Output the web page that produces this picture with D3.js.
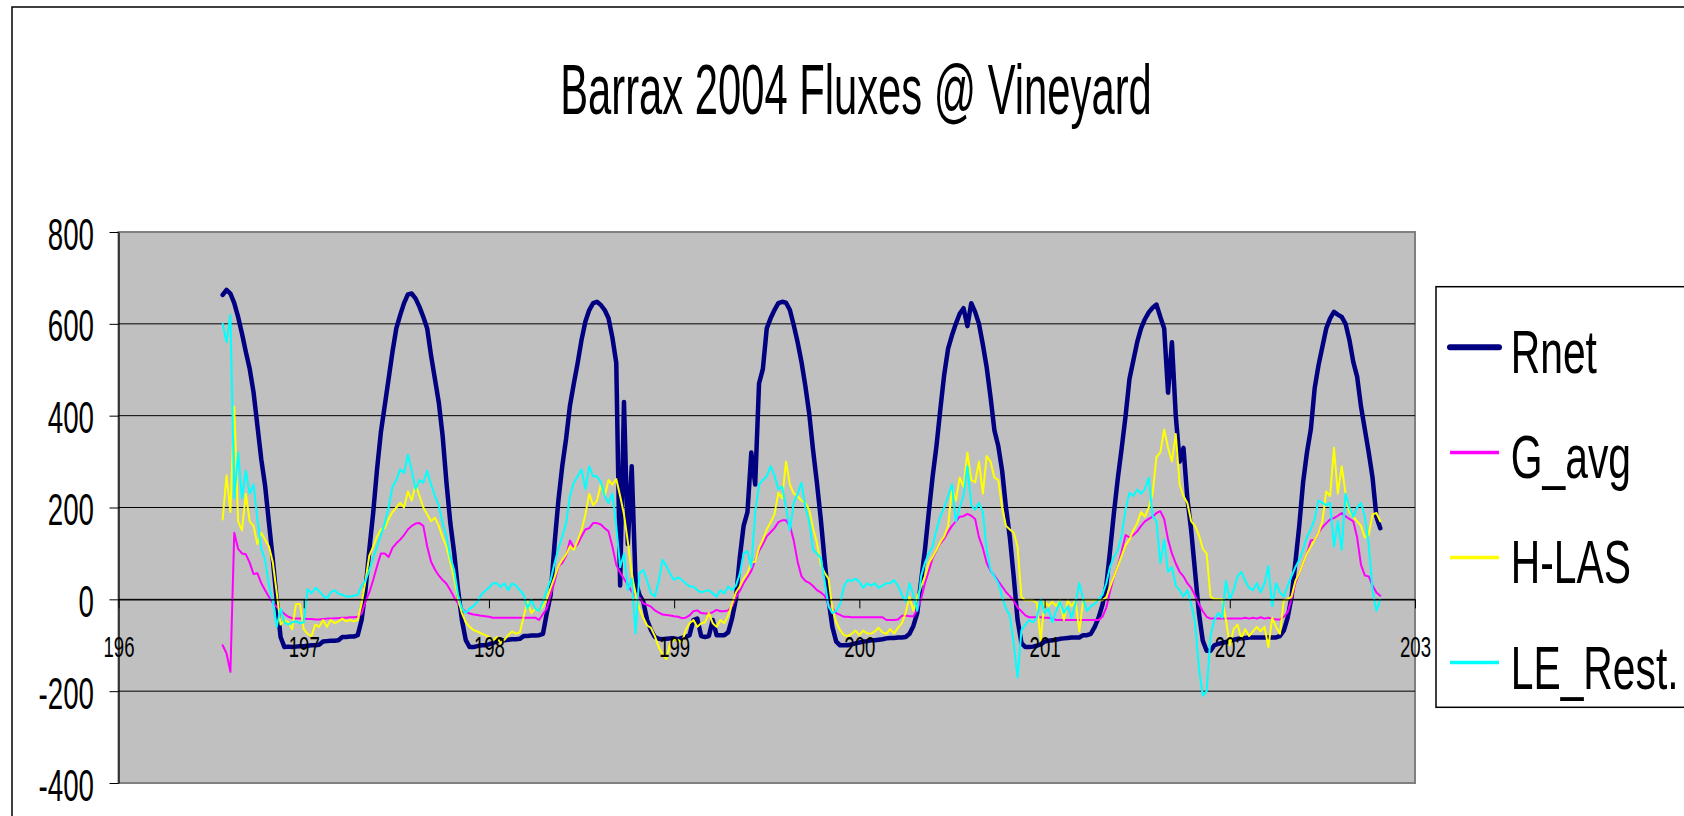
<!DOCTYPE html>
<html>
<head>
<meta charset="utf-8">
<script src="https://cdn.jsdelivr.net/npm/d3@7"></script>
<style>
  html, body { margin: 0; padding: 0; background: #fff; overflow: hidden; }
  svg { display: block; }
  text { font-family: "Liberation Sans", Arial, sans-serif; fill: #000; }
</style>
</head>
<body>
<svg width="1684" height="816"></svg>
<script>
// half-hourly samples, first one at day 196, 13:30
const startDay = 196.5625;
const stepDay = 1 / 48;

const seriesNames = ['Rnet', 'G_avg', 'H-LAS', 'LE_Rest.'];
const seriesColors = ['#000080', '#ff00ff', '#ffff00', '#00ffff'];
const dayTicks = [196, 197, 198, 199, 200, 201, 202, 203];
const fluxTicks = [-400, -200, 0, 200, 400, 600, 800];

const rnet = [
  663, 674, 666, 645, 615, 579, 539, 502, 451, 378,
  305, 247, 166, 86, -1, -82, -104, -103, -104, -103,
  -102, -102, -101, -100, -100, -99, -92, -91, -90, -90,
  -89, -82, -82, -81, -81, -78, -45, 20, 108, 188,
  283, 364, 422, 480, 539, 590, 619, 645, 664, 666,
  655, 637, 615, 590, 531, 480, 429, 356, 254, 166,
  101, 20, -45, -89, -104, -104, -102, -100, -100, -98,
  -95, -92, -90, -89, -88, -87, -87, -86, -80, -80,
  -79, -79, -78, -75, -30, 10, 120, 215, 290, 350,
  422, 470, 515, 565, 605, 630, 645, 648, 641, 630,
  612, 570, 515, 30, 430, 120, 290, 40, 10, -5,
  -45, -67, -82, -86, -87, -86, -85, -85, -87, -84,
  -82, -78, -45, -42, -80, -82, -80, -45, -78, -78,
  -78, -72, -42, 0, 90, 160, 190, 320, 250, 470,
  502, 590, 612, 630, 645, 648, 646, 630, 597, 560,
  517, 465, 405, 325, 254, 175, 85, 0, -60, -92,
  -100, -100, -100, -98, -96, -94, -92, -91, -89, -89,
  -88, -87, -85, -84, -84, -83, -83, -82, -75, -58,
  -30, 40, 108, 190, 268, 335, 415, 490, 546, 575,
  600, 622, 634, 595, 645, 626, 600, 555, 505, 440,
  368, 334, 280, 200, 135, 50, -45, -95, -104, -104,
  -103, -101, -98, -92, -90, -89, -88, -86, -85, -84,
  -83, -83, -83, -78, -78, -75, -60, -40, -12, 30,
  108, 190, 265, 330, 400, 480, 520, 560, 590, 610,
  625, 635, 642, 615, 590, 450, 560, 400, 300, 330,
  220, 150, 60, -30, -90, -112, -112, -100, -97, -95,
  -93, -90, -88, -86, -85, -84, -83, -83, -83, -83,
  -83, -83, -83, -83, -80, -68, -40, 5, 80, 160,
  255, 320, 370, 460, 510, 550, 590, 612, 626, 620,
  615, 600, 565, 517, 485, 420, 370, 320, 265, 180,
  155
];

const gAvg = [
  -100, -118, -158, 145, 110, 100, 98, 80, 55, 57,
  35, 20, 5, -8, -16, -24, -32, -38, -41, -42,
  -42, -42, -43, -43, -44, -44, -43, -42, -42, -41,
  -41, -40, -40, -39, -39, -38, -31, -5, 15, 42,
  72, 100, 100, 92, 112, 122, 130, 140, 152, 160,
  165, 166, 160, 115, 82, 65, 52, 42, 34, 20,
  4, -9, -20, -27, -31, -33, -34, -36, -37, -38,
  -40, -40, -40, -40, -40, -40, -40, -40, -40, -40,
  -40, -40, -45, -32, -20, 10, 38, 72, 79, 95,
  128, 112, 120, 137, 152, 155, 166, 166, 163, 155,
  148, 115, 75, 58, 45, 32, 17, 8, 4, -9,
  -12, -16, -24, -29, -33, -34, -35, -37, -38, -41,
  -40, -35, -26, -24, -30, -31, -31, -28, -23, -26,
  -26, -24, -15, 4, 18, 35, 48, 62, 85, 105,
  120, 137, 146, 155, 168, 172, 172, 160, 128, 82,
  50, 40, 36, 29, 20, 15, 8, -11, -20, -30,
  -34, -38, -38, -39, -39, -39, -39, -39, -39, -39,
  -39, -39, -45, -45, -45, -44, -36, -35, -37, -37,
  -22, 0, 35, 62, 90, 107, 122, 132, 147, 160,
  170, 180, 181, 186, 182, 175, 135, 112, 79, 62,
  52, 40, 28, 16, 7, -3, -18, -26, -35, -39,
  -39, -39, -39, -40, -40, -42, -45, -45, -45, -45,
  -45, -45, -45, -45, -45, -45, -45, -45, -38, -18,
  18, 50, 72, 105, 140, 135, 140, 148, 160, 170,
  175, 180, 188, 192, 175, 130, 100, 78, 60, 50,
  35, 25, 8, -10, -26, -38, -42, -42, -42, -42,
  -42, -42, -42, -42, -42, -40, -42, -40, -42, -39,
  -42, -40, -42, -44, -44, -38, -28, 0, 35, 57,
  79, 100, 128, 130, 145, 157, 166, 174, 177, 182,
  188, 181, 175, 170, 135, 75, 52, 50, 30, 15,
  8
];

const hLas = [
  174, 270, 190, 420, 170, 150, 230, 170, 160, 120,
  145, 130, 115, 80, 15, -55, -45, -50, -65, -10,
  -10, -65, -75, -80, -55, -60, -45, -60, -45, -52,
  -48, -42, -48, -45, -48, -45, -10, 40, 95, 115,
  137, 152, 155, 175, 190, 200, 210, 200, 235, 215,
  250, 225, 200, 185, 170, 178, 160, 135, 115, 80,
  45, 0, -30, -50, -60, -67, -70, -74, -78, -82,
  -90, -82, -95, -88, -78, -70, -75, -72, -38, -5,
  -30, -20, -25, -15, 0, 25, 48, 72, 86, 98,
  115, 108, 128, 150, 185, 230, 205, 215, 250, 225,
  260, 250, 262, 225, 185, 125, 57, 10, -20, -40,
  -57, -62, -80, -104, -120, -130, -95, -88, -88, -95,
  -67, -52, -45, -60, -52, -50, -30, -52, -60, -45,
  -52, -35, -10, 15, 28, 45, 57, 80, 82, 112,
  130, 152, 168, 185, 232, 220, 300, 250, 230, 225,
  215, 210, 195, 155, 123, 75, 58, 45, -20, -50,
  -67, -78, -80, -75, -68, -78, -68, -74, -75, -70,
  -62, -72, -75, -65, -74, -62, -52, -30, 5, -25,
  5, 28, 50, 79, 93, 108, 125, 137, 160, 240,
  215, 265, 245, 320, 260, 255, 300, 230, 312, 300,
  265, 260, 200, 160, 152, 145, 115, 5, -2, -2,
  -2, -8, -89, -4, -15, -5, -15, -2, -45, -2,
  -15, -2, -70, -2, -2, -2, -2, -2, -2, 5,
  28, 50, 72, 95, 118, 130, 150, 166, 190, 180,
  200, 230, 310, 320, 370, 330, 300, 360, 250, 225,
  210, 170, 160, 140, 110, 100, 6, 0, 0, 0,
  -45, -100, -65, -55, -85, -65, -80, -70, -60, -70,
  -60, -104, -40, -60, -75, -2, 0, 6, 40, 57,
  79, 100, 115, 130, 145, 170, 235, 225, 330, 230,
  290, 230, 190, 180, 170, 160, 135, 140, 185, 188,
  170
];

const leRest = [
  600, 560, 620, 220, 320, 220, 280, 230, 250, 175,
  110, 86, 30, -5, -60, -20, -50, -55, -50, -48,
  -52, -50, 22, 13, 25, 18, 8, 2, 15, 20,
  12, 10, 6, 6, 8, 10, 30, 40, 64, 90,
  115, 140, 165, 200, 245, 260, 283, 275, 315, 280,
  240, 260, 254, 280, 250, 225, 205, 165, 137, 92,
  64, 10, -20, -30, -20, -15, -5, 10, 18, 25,
  35, 35, 27, 35, 20, 35, 30, 20, 10, -20,
  0, -20, -25, -5, 20, 42, 79, 110, 137, 166,
  225, 254, 268, 283, 240, 290, 268, 268, 255, 225,
  210, 230, 160, 70, 100, 20, 45, -74, 57, 64,
  40, 13, 6, 40, 86, 72, 55, 42, 48, 42,
  35, 28, 28, 20, 15, 18, 20, 13, 6, 20,
  13, 28, 20, 30, 55, 100, 105, 70, 190, 250,
  260, 268, 290, 270, 240, 245, 200, 150, 210, 230,
  254, 200, 170, 108, 100, 90, 40, -15, -30, -25,
  -10, 28, 42, 40, 45, 38, 25, 35, 30, 35,
  25, 30, 35, 35, 42, 30, 10, -5, 35, 10,
  -25, 50, 80, 100, 115, 152, 181, 200, 225, 250,
  170, 200, 225, 290, 205, 195, 210, 190, 108, 64,
  50, 35, 6, -20, -35, -96, -170, -67, -55, -45,
  -50, -40, 0, -30, -20, -50, -25, -5, -30, -15,
  -40, -10, 35, 0, -25, -15, -10, 0, 10, 35,
  72, 93, 108, 140, 196, 232, 225, 239, 230, 240,
  265, 181, 170, 79, 130, 60, 70, 30, 20, 6,
  20, -10, -50, -150, -210, -200, -80, -45, -30, -40,
  40, 0, 20, 50, 60, 40, 25, 20, 35, 15,
  35, 72, -15, 35, 15, 6, 30, 50, 70, 86,
  108, 137, 152, 175, 215, 210, 205, 210, 115, 170,
  108, 230, 200, 180, 200, 210, 180, 120, 20, -25,
  0
];

const seriesValues = [rnet, gAvg, hLas, leRest];
const seriesWidths = [4.5, 2, 2, 2];

const svg = d3.select('svg');

const x = d3.scaleLinear().domain([196, 203]).range([118.5, 1415]);
const y = d3.scaleLinear().domain([-400, 800]).range([783, 232]);

// squeeze text horizontally (the original chart font is very narrow)
function squeeze(sel, k) {
  sel.each(function() {
    const t = d3.select(this);
    const xx = +t.attr('x') || 0;
    t.attr('x', xx / k).attr('transform', `scale(${k},1)`);
  });
}

// outer chart border
svg.append('rect')
  .attr('x', 12).attr('y', 7)
  .attr('width', 1800).attr('height', 900)
  .attr('fill', 'none')
  .attr('stroke', '#000')
  .attr('stroke-width', 1.5);

// title
const title = svg.append('text')
  .attr('x', 856).attr('y', 114.5)
  .attr('text-anchor', 'middle')
  .style('font-size', '71px')
  .text('Barrax 2004 Fluxes @ Vineyard');
squeeze(title, 0.588);

// plot area
svg.append('rect')
  .attr('x', x(196)).attr('y', y(800))
  .attr('width', x(203) - x(196))
  .attr('height', y(-400) - y(800))
  .attr('fill', '#c0c0c0')
  .attr('stroke', '#808080')
  .attr('stroke-width', 2);

svg.append('g')
  .selectAll('line')
  .data(fluxTicks.filter(v => v > -400 && v < 800))
  .enter().append('line')
  .attr('x1', x(196)).attr('x2', x(203))
  .attr('y1', d => y(d)).attr('y2', d => y(d))
  .attr('stroke', '#000')
  .attr('stroke-width', 1);

// series
const line = d3.line()
  .x((d, i) => x(startDay + i * stepDay))
  .y(d => y(d));

svg.append('g')
  .selectAll('path')
  .data(seriesValues)
  .enter().append('path')
  .attr('d', d => line(d))
  .attr('fill', 'none')
  .attr('stroke', (d, i) => seriesColors[i])
  .attr('stroke-width', (d, i) => seriesWidths[i])
  .attr('stroke-linejoin', 'round')
  .attr('stroke-linecap', 'round');

// axes
const yAxis = svg.append('g')
  .attr('transform', `translate(${x(196)},0)`)
  .call(d3.axisLeft(y)
    .tickValues(fluxTicks)
    .tickSize(9)
    .tickSizeOuter(0)
    .tickPadding(15.5)
    .tickFormat(d => String(d)));
yAxis.select('.domain').attr('stroke', '#000').attr('stroke-width', 1.2);
yAxis.selectAll('.tick line').attr('stroke', '#000');
yAxis.selectAll('text').style('font-size', '44px').attr('dy', 17);
squeeze(yAxis.selectAll('text'), 0.63);

const xAxis = svg.append('g')
  .attr('transform', `translate(0,${y(0)})`)
  .call(d3.axisBottom(x)
    .tickValues(dayTicks)
    .tickSize(9)
    .tickSizeOuter(0)
    .tickFormat(d => String(d)));
xAxis.select('.domain').attr('stroke', '#000').attr('stroke-width', 1.2);
xAxis.selectAll('.tick line').attr('stroke', '#000');
xAxis.selectAll('text').style('font-size', '30px').attr('y', 57.7).attr('dy', 0);
squeeze(xAxis.selectAll('text'), 0.62);

// legend
const legend = svg.append('g');
legend.append('rect')
  .attr('x', 1436).attr('y', 286.7)
  .attr('width', 400).attr('height', 420.6)
  .attr('fill', '#fff')
  .attr('stroke', '#000')
  .attr('stroke-width', 1.5);

seriesNames.forEach((name, i) => {
  const ly = 347.3 + i * 105.1;
  legend.append('line')
    .attr('x1', 1450).attr('x2', 1499)
    .attr('y1', ly).attr('y2', ly)
    .attr('stroke', seriesColors[i])
    .attr('stroke-width', i === 0 ? 6 : 3.5)
    .attr('stroke-linecap', i === 0 ? 'round' : 'butt');
  const t = legend.append('text')
    .attr('x', 1510.7).attr('y', ly + 26)
    .style('font-size', '60.5px')
    .text(name);
  squeeze(t, 0.675);
});
</script>
</body>
</html>
